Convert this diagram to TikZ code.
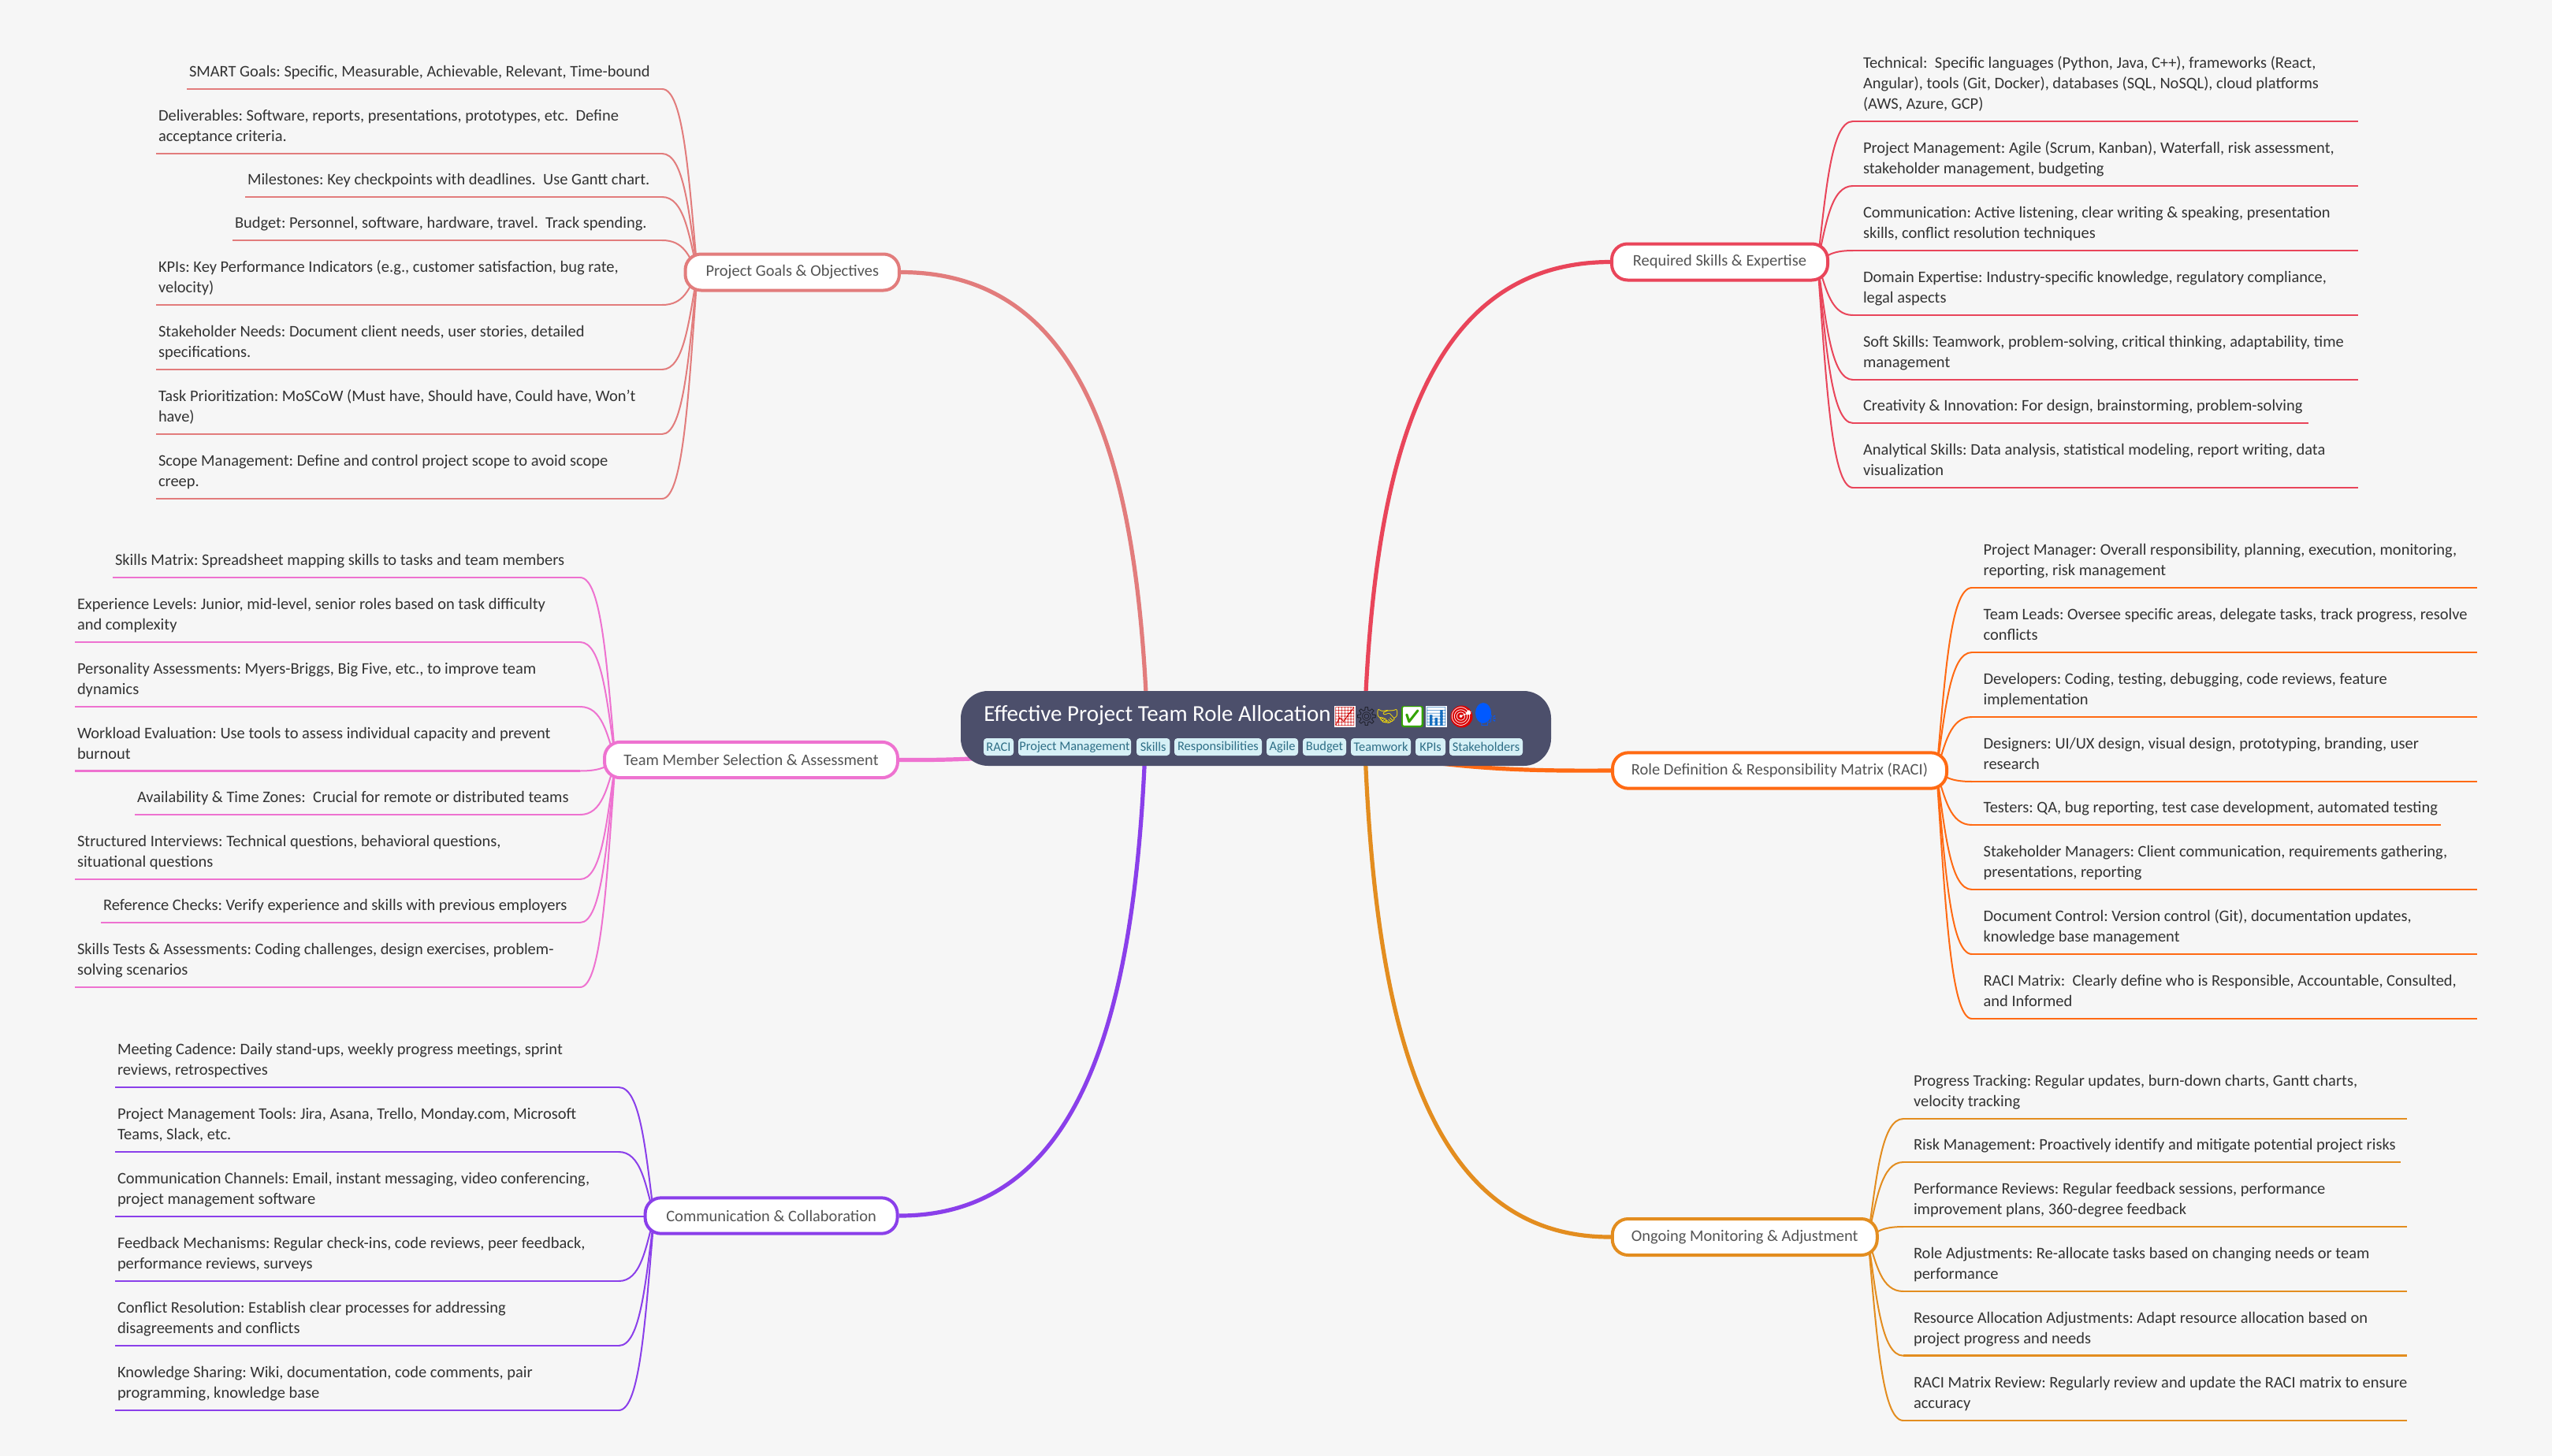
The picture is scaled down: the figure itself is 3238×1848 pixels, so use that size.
\documentclass[tikz,border=0pt]{standalone}
\usepackage{fontspec}
\usetikzlibrary{calc}
\setmainfont{Carlito}
\newfontfamily\emo{Noto Emoji}
\pgfdeclarelayer{bg}\pgfdeclarelayer{wire}\pgfsetlayers{bg,wire,main}
\definecolor{bgc}{HTML}{F6F6F6}
\definecolor{cpg}{HTML}{E27C7C}
\definecolor{crs}{HTML}{E9455A}
\definecolor{cro}{HTML}{FF6A13}
\definecolor{cmo}{HTML}{E38D1F}
\definecolor{cte}{HTML}{EE72D0}
\definecolor{cco}{HTML}{8A3FEA}
\definecolor{ctitle}{HTML}{4C4F6B}
\definecolor{ctag}{HTML}{D6F0F6}
\definecolor{ctagt}{HTML}{2E6E86}
\definecolor{leaft}{HTML}{333333}
\definecolor{brt}{HTML}{555555}
\newcommand\ls{\rule[-11.5pt]{0pt}{1pt}}
\newcommand\bodyfont{\frenchspacing\fontsize{15.35}{19.6}\selectfont}
\tikzset{
  x=0.75pt,y=-0.75pt,
  leaf/.style={inner sep=0pt,outer sep=0pt,align=left,text=leaft,font=\bodyfont},
  branch/.style={draw=#1,fill=white,line width=3pt,rounded corners=15pt,inner sep=0pt,text=brt,font=\bodyfont},
  rootbox/.style={fill=ctitle,rounded corners=26pt,inner sep=0pt},
  tagbox/.style={fill=ctag,rounded corners=3pt,inner sep=0pt,text=ctagt,minimum height=16.5pt,font=\frenchspacing\fontsize{12.3}{15}\selectfont},
  emoji/.style={inner sep=0pt,font=\emo\fontsize{17.5}{20}\selectfont},
  under/.style={draw=#1,line width=2.1pt},
  twig/.style={draw=#1,line width=1.5pt},
  trunk/.style={draw=#1,line width=3.9pt},
}
% id, x-start, y, hub, join-x, colour, text : left-hand leaf
\newcommand\leafl[7]{%
  \coordinate (#1-s) at (#2,#3);\coordinate (#1-j) at (#5,#3);
  \node[leaf,anchor=south west] (#1) at (#2+3,#3) {#7\ls};
  \begin{pgfonlayer}{wire}
  \draw[under=#6] (#1-s) -- (#1-j);
  \draw[twig=#6] (#1-j) .. controls ($(#1-j)+(28,0)$) and ($(#1-j)!.5!(#4)+(11.5,0)$) .. (#4);
  \end{pgfonlayer}}
% id, x-text, y, hub, join-x, colour, text, x-end : right-hand leaf
\newcommand\leafr[8]{%
  \coordinate (#1-s) at (#8,#3);\coordinate (#1-j) at (#5,#3);
  \node[leaf,anchor=south west] (#1) at (#2,#3) {#7\ls};
  \begin{pgfonlayer}{wire}
  \draw[under=#6] (#1-s) -- (#1-j);
  \draw[twig=#6] (#1-j) .. controls ($(#1-j)+(-28,0)$) and ($(#1-j)!.5!(#4)+(-11.5,0)$) .. (#4);
  \end{pgfonlayer}}
\begin{document}
\begin{tikzpicture}
\useasboundingbox (0,0) rectangle (3238,1848);
\begin{pgfonlayer}{bg}\fill[bgc] (0,0) rectangle (3238,1848);\end{pgfonlayer}

% root
\node[rootbox,minimum width=561.75pt,minimum height=71.25pt] (root) at (1593.5,924.5) {};
\node[anchor=west,inner sep=0pt,text=white,font=\frenchspacing\fontsize{21.7}{26}\selectfont] (title) at (1248,907.5) {Effective Project Team Role Allocation};
\fill[white] (1693,896) rectangle (1720,923);
\fill[green!55!black!80!yellow,rounded corners=2pt] (1778,896) rectangle (1806,923);
\fill[white] (1809,896) rectangle (1836,923);
\fill[red!85!black] (1854.5,909.5) circle (14);
\fill[blue!65!cyan] (1882,905) ellipse (10 and 13);
\node[emoji,text=red!80!black] (e1) at (1706.5,909.5) {📈};
\node[emoji,text=black!65!ctitle] (e2) at (1734,909.5) {⚙};
\node[emoji,text=yellow!85!orange] (e3) at (1760.5,909.5) {🤝};
\node[emoji,text=white] (e4) at (1792,909.5) {✅};
\node[emoji,text=cyan!50!blue] (e5) at (1822.5,909.5) {📊};
\node[emoji,text=white] (e6) at (1854.5,909.5) {🎯};
\node[emoji,text=blue!65!cyan] (e7) at (1886,909.5) {🗣};
\foreach \n/\a/\b/\t in {t1/1248/1286/RACI,t2/1292/1435/Project Management,t3/1442/1484.4/Skills,t4/1490/1601/Responsibilities,t5/1607/1647/Agile,t6/1653/1708/Budget,t7/1714/1790/Teamwork,t8/1796/1834/KPIs,t9/1839/1932/Stakeholders}{
  \node[tagbox,minimum width={(\b-\a)*0.75pt}] (\n) at ({(\a+\b)/2},948) {\t};
}

% branches
\node[branch=cpg,minimum width=203.6pt,minimum height=34.5pt] (pg) at (1005.25,345.5) {Project Goals \& Objectives};
\node[branch=crs,minimum width=205.5pt,minimum height=34.5pt] (rs) at (2182,332.5) {Required Skills \& Expertise};
\node[branch=cro,minimum width=318pt,minimum height=34pt] (ro) at (2258,978) {Role Definition \& Responsibility Matrix (RACI)};
\node[branch=cmo,minimum width=252pt,minimum height=34.5pt] (mo) at (2213.75,1570) {Ongoing Monitoring \& Adjustment};
\node[branch=cte,minimum width=279pt,minimum height=34pt] (te) at (953,964.5) {Team Member Selection \& Assessment};
\node[branch=cco,minimum width=240pt,minimum height=34pt] (co) at (978.6,1543) {Communication \& Collaboration};

\coordinate (pgh) at (885,345.5);
\coordinate (rsh) at (2306,333);
\coordinate (roh) at (2457,979);
\coordinate (moh) at (2370,1571);
\coordinate (teh) at (781,965.5);
\coordinate (coh) at (830,1544);

% trunks
\begin{pgfonlayer}{wire}
\draw[trunk=cpg] (pg.east) .. controls (1390,345.5) and (1445,620) .. (1456,925);
\draw[trunk=crs] (rs.west) .. controls (1796,333) and (1742,614) .. (1731,925);
\draw[trunk=cco] (co.east) .. controls (1388,1544) and (1443,1250) .. (1454,925);
\draw[trunk=cmo] (mo.west) .. controls (1796,1571) and (1742,1265) .. (1731,925);
\draw[trunk=cte] (te.east) .. controls (1250,965.5) and (1350,958) .. (root.center);
\draw[trunk=cro] (ro.west) .. controls (1900,979) and (1800,975) .. (root.center);
\end{pgfonlayer}

% Project goals
\leafl{a1}{237}{113}{pgh}{840}{cpg}{SMART Goals: Specific, Measurable, Achievable, Relevant, Time-bound}
\leafl{a2}{198}{195}{pgh}{840}{cpg}{Deliverables: Software, reports, presentations, prototypes, etc.\ \ Define\\acceptance criteria.}
\leafl{a3}{311}{250}{pgh}{840}{cpg}{Milestones: Key checkpoints with deadlines.\ \ Use Gantt chart.}
\leafl{a4}{295}{305}{pgh}{840}{cpg}{Budget: Personnel, software, hardware, travel.\ \ Track spending.}
\leafl{a5}{198}{387}{pgh}{840}{cpg}{KPIs: Key Performance Indicators (e.g., customer satisfaction, bug rate,\\velocity)}
\leafl{a6}{198}{469}{pgh}{840}{cpg}{Stakeholder Needs: Document client needs, user stories, detailed\\specifications.}
\leafl{a7}{198}{551}{pgh}{840}{cpg}{Task Prioritization: MoSCoW (Must have, Should have, Could have, Won't\\have)}
\leafl{a8}{198}{633}{pgh}{840}{cpg}{Scope Management: Define and control project scope to avoid scope\\creep.}

% Team
\leafl{b1}{143}{733}{teh}{736}{cte}{Skills Matrix: Spreadsheet mapping skills to tasks and team members}
\leafl{b2}{95}{815}{teh}{736}{cte}{Experience Levels: Junior, mid-level, senior roles based on task difficulty\\and complexity}
\leafl{b3}{95}{897}{teh}{736}{cte}{Personality Assessments: Myers-Briggs, Big Five, etc., to improve team\\dynamics}
\leafl{b4}{95}{978.5}{teh}{736}{cte}{Workload Evaluation: Use tools to assess individual capacity and prevent\\burnout}
\leafl{b5}{171}{1034}{teh}{736}{cte}{Availability \& Time Zones:\ \ Crucial for remote or distributed teams}
\leafl{b6}{95}{1116}{teh}{736}{cte}{Structured Interviews: Technical questions, behavioral questions,\\situational questions}
\leafl{b7}{128}{1171}{teh}{736}{cte}{Reference Checks: Verify experience and skills with previous employers}
\leafl{b8}{95}{1253}{teh}{736}{cte}{Skills Tests \& Assessments: Coding challenges, design exercises, problem-\\solving scenarios}

% Communication
\leafl{c1}{146}{1380}{coh}{785}{cco}{Meeting Cadence: Daily stand-ups, weekly progress meetings, sprint\\reviews, retrospectives}
\leafl{c2}{146}{1462}{coh}{785}{cco}{Project Management Tools: Jira, Asana, Trello, Monday.com, Microsoft\\Teams, Slack, etc.}
\leafl{c3}{146}{1544}{coh}{785}{cco}{Communication Channels: Email, instant messaging, video conferencing,\\project management software}
\leafl{c4}{146}{1626}{coh}{785}{cco}{Feedback Mechanisms: Regular check-ins, code reviews, peer feedback,\\performance reviews, surveys}
\leafl{c5}{146}{1708}{coh}{785}{cco}{Conflict Resolution: Establish clear processes for addressing\\disagreements and conflicts}
\leafl{c6}{146}{1790}{coh}{785}{cco}{Knowledge Sharing: Wiki, documentation, code comments, pair\\programming, knowledge base}

% Required skills
\leafr{d1}{2364}{154}{rsh}{2351}{crs}{Technical:\ \ Specific languages (Python, Java, C++), frameworks (React,\\Angular), tools (Git, Docker), databases (SQL, NoSQL), cloud platforms\\(AWS, Azure, GCP)}{2992}
\leafr{d2}{2364}{236}{rsh}{2351}{crs}{Project Management: Agile (Scrum, Kanban), Waterfall, risk assessment,\\stakeholder management, budgeting}{2992}
\leafr{d3}{2364}{318}{rsh}{2351}{crs}{Communication: Active listening, clear writing \& speaking, presentation\\skills, conflict resolution techniques}{2992}
\leafr{d4}{2364}{400}{rsh}{2351}{crs}{Domain Expertise: Industry-specific knowledge, regulatory compliance,\\legal aspects}{2992}
\leafr{d5}{2364}{482}{rsh}{2351}{crs}{Soft Skills: Teamwork, problem-solving, critical thinking, adaptability, time\\management}{2992}
\leafr{d6}{2364}{537}{rsh}{2351}{crs}{Creativity \& Innovation: For design, brainstorming, problem-solving}{2929}
\leafr{d7}{2364}{619}{rsh}{2351}{crs}{Analytical Skills: Data analysis, statistical modeling, report writing, data\\visualization}{2992}

% Roles
\leafr{e1x}{2516.6}{746}{roh}{2502}{cro}{Project Manager: Overall responsibility, planning, execution, monitoring,\\reporting, risk management}{3143}
\leafr{e2x}{2516.6}{828}{roh}{2502}{cro}{Team Leads: Oversee specific areas, delegate tasks, track progress, resolve\\conflicts}{3143}
\leafr{e3x}{2516.6}{910}{roh}{2502}{cro}{Developers: Coding, testing, debugging, code reviews, feature\\implementation}{3143}
\leafr{e4x}{2516.6}{992}{roh}{2502}{cro}{Designers: UI/UX design, visual design, prototyping, branding, user\\research}{3143}
\leafr{e5x}{2516.6}{1047}{roh}{2502}{cro}{Testers: QA, bug reporting, test case development, automated testing}{3097}
\leafr{e6x}{2516.6}{1129}{roh}{2502}{cro}{Stakeholder Managers: Client communication, requirements gathering,\\presentations, reporting}{3143}
\leafr{e7x}{2516.6}{1211}{roh}{2502}{cro}{Document Control: Version control (Git), documentation updates,\\knowledge base management}{3143}
\leafr{e8x}{2516.6}{1293}{roh}{2502}{cro}{RACI Matrix:\ \ Clearly define who is Responsible, Accountable, Consulted,\\and Informed}{3143}

% Monitoring
\leafr{f1}{2428}{1420}{moh}{2415}{cmo}{Progress Tracking: Regular updates, burn-down charts, Gantt charts,\\velocity tracking}{3054}
\leafr{f2}{2428}{1475}{moh}{2415}{cmo}{Risk Management: Proactively identify and mitigate potential project risks}{3046}
\leafr{f3}{2428}{1557}{moh}{2415}{cmo}{Performance Reviews: Regular feedback sessions, performance\\improvement plans, 360-degree feedback}{3054}
\leafr{f4}{2428}{1639}{moh}{2415}{cmo}{Role Adjustments: Re-allocate tasks based on changing needs or team\\performance}{3054}
\leafr{f5}{2428}{1720.7}{moh}{2415}{cmo}{Resource Allocation Adjustments: Adapt resource allocation based on\\project progress and needs}{3054}
\leafr{f6}{2428}{1803}{moh}{2415}{cmo}{RACI Matrix Review: Regularly review and update the RACI matrix to ensure\\accuracy}{3054}
\end{tikzpicture}
\end{document}
